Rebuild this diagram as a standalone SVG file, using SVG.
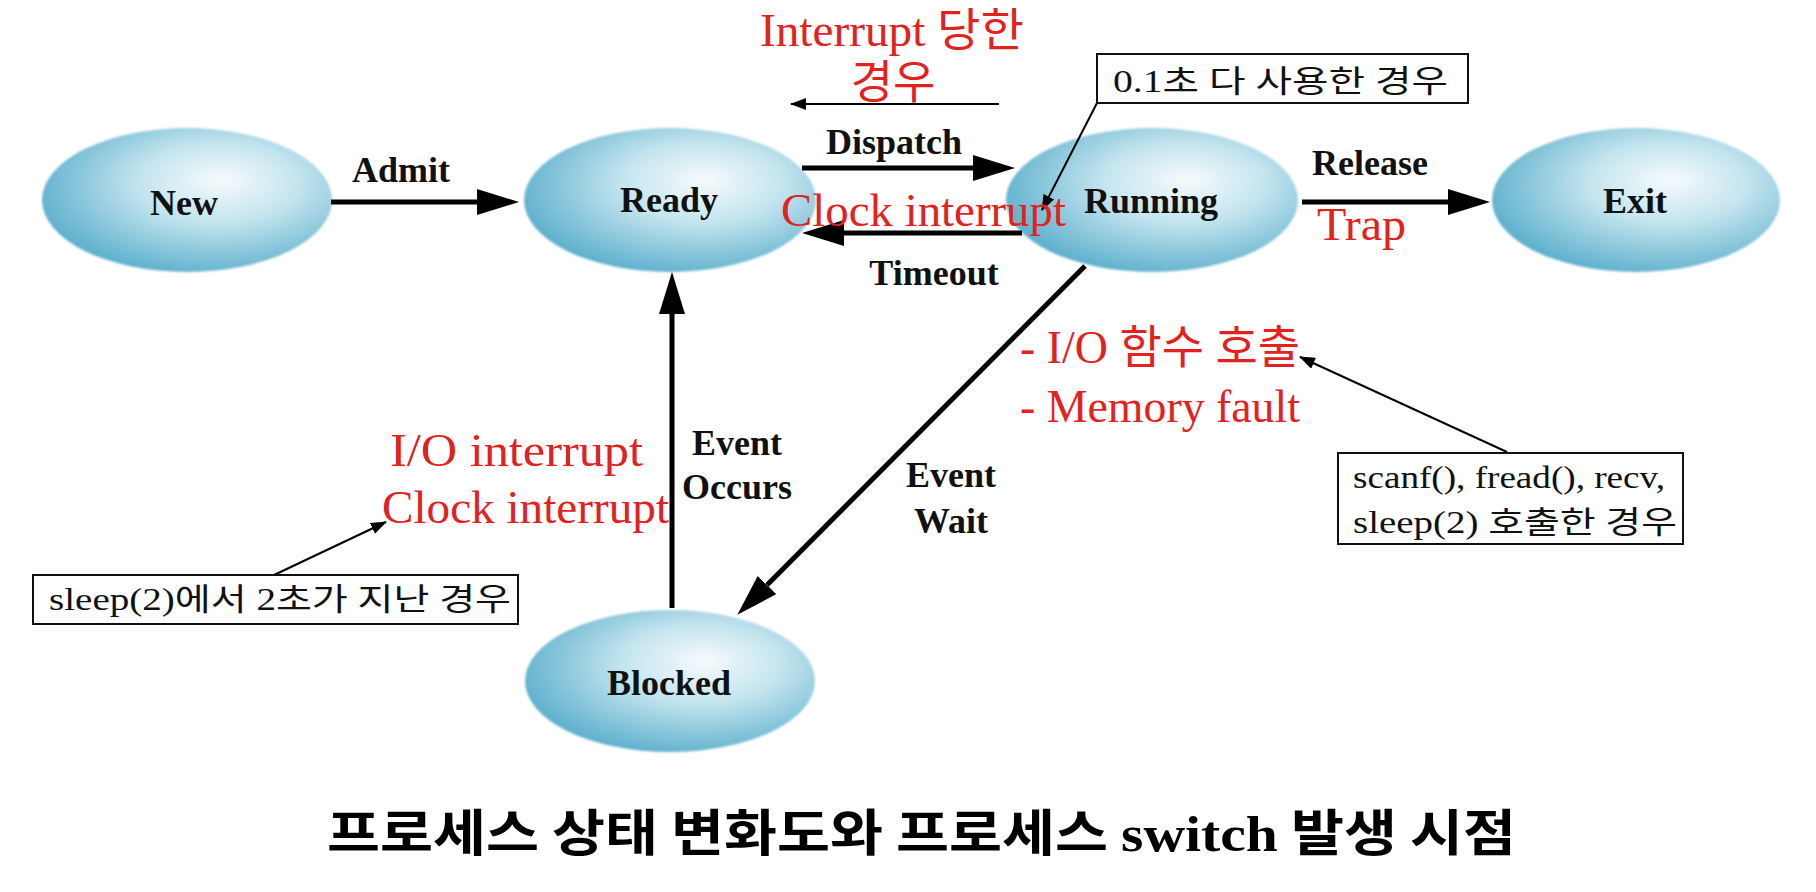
<svg xmlns="http://www.w3.org/2000/svg" width="1816" height="892" viewBox="0 0 1816 892">
<defs>
<radialGradient id="gb" cx="0.6" cy="0.4" r="0.62" fx="0.62" fy="0.36">
<stop offset="0" stop-color="#f6fbfd"/>
<stop offset="0.45" stop-color="#c3e4ee"/>
<stop offset="1" stop-color="#62b2ce"/>
</radialGradient>
<filter id="soft" x="-5%" y="-5%" width="110%" height="110%"><feGaussianBlur stdDeviation="1.2"/></filter>
<marker id="big" viewBox="0 0 42 26" refX="0" refY="13" markerWidth="42" markerHeight="26" markerUnits="userSpaceOnUse" orient="auto"><path d="M0,0 L42,13 L0,26 z" fill="#000"/></marker>
<marker id="thin" viewBox="0 0 16 12" refX="15" refY="6" markerWidth="16" markerHeight="12" markerUnits="userSpaceOnUse" orient="auto"><path d="M0,0 L16,6 L0,12 z" fill="#000"/></marker>
</defs>
<style>
.st{fill:url(#gb);filter:url(#soft)}
.nl{font-family:"Liberation Serif",serif;font-weight:bold;font-size:36px;fill:#111;text-anchor:middle}
.el{font-family:"Liberation Serif",serif;font-weight:bold;font-size:36px;fill:#111;text-anchor:middle}
.red{font-family:"Liberation Serif","Noto Sans CJK KR",serif;font-size:46px;fill:#e3211f}
.box{fill:#fff;stroke:#111;stroke-width:2}
.bt{font-family:"Liberation Serif","Noto Sans CJK KR",serif;font-size:31px;fill:#111}
.thick{stroke:#000;stroke-width:5;fill:none}
.tl{stroke:#000;stroke-width:2;fill:none}
.title{font-family:"Noto Sans CJK KR",sans-serif;font-weight:bold;font-size:50px;fill:#000}
</style>
<rect width="1816" height="892" fill="#fff"/>

<g id="node-new"><ellipse class="st" cx="187" cy="200" rx="145" ry="72"/><text class="nl" x="184" y="215">New</text></g>
<g id="node-ready"><ellipse class="st" cx="670" cy="200" rx="146" ry="72"/><text class="nl" x="669" y="212">Ready</text></g>
<g id="node-running"><ellipse class="st" cx="1152" cy="200" rx="146" ry="72"/><text class="nl" x="1151" y="213">Running</text></g>
<g id="node-exit"><ellipse class="st" cx="1636" cy="200" rx="144" ry="72"/><text class="nl" x="1635" y="213">Exit</text></g>
<g id="node-blocked"><ellipse class="st" cx="670" cy="681" rx="145" ry="71"/><text class="nl" x="669" y="695">Blocked</text></g>

<g id="connectors">
<line class="thick" x1="331" y1="202" x2="477" y2="202" marker-end="url(#big)"/>
<line class="thick" x1="802" y1="168" x2="973" y2="168" marker-end="url(#big)"/>
<line class="thick" x1="1022" y1="233" x2="844" y2="233" marker-end="url(#big)"/>
<line class="thick" x1="1302" y1="202" x2="1448" y2="202" marker-end="url(#big)"/>
<line class="thick" x1="672" y1="608" x2="672" y2="314" marker-end="url(#big)"/>
<line class="thick" x1="1085" y1="266" x2="767" y2="585" marker-end="url(#big)"/>
<line class="tl" x1="999" y1="104" x2="791" y2="104" marker-end="url(#thin)"/>
<line class="tl" x1="1097" y1="103" x2="1042" y2="210" marker-end="url(#thin)"/>
<line class="tl" x1="274" y1="575" x2="386" y2="522" marker-end="url(#thin)"/>
<line class="tl" x1="1507" y1="452" x2="1300" y2="357" marker-end="url(#thin)"/>
</g>

<g id="edge-labels">
<text class="el" x="401" y="182">Admit</text>
<text class="el" x="894" y="154">Dispatch</text>
<text class="el" x="934" y="285">Timeout</text>
<text class="el" x="1370" y="175">Release</text>
<text class="el" x="737" y="455">Event</text>
<text class="el" x="737" y="499">Occurs</text>
<text class="el" x="951" y="487">Event</text>
<text class="el" x="951" y="533">Wait</text>
</g>

<g id="red-notes">
<text class="red" x="760" y="46" textLength="264" lengthAdjust="spacingAndGlyphs">Interrupt 당한</text>
<text class="red" x="893" y="98" text-anchor="middle">경우</text>
<text class="red" x="781" y="226" textLength="285" lengthAdjust="spacingAndGlyphs">Clock interrupt</text>
<text class="red" x="1317" y="240" textLength="89" lengthAdjust="spacingAndGlyphs">Trap</text>
<text class="red" x="390" y="466" textLength="253" lengthAdjust="spacingAndGlyphs">I/O interrupt</text>
<text class="red" x="382" y="523" textLength="287" lengthAdjust="spacingAndGlyphs">Clock interrupt</text>
<text class="red" x="1020" y="363" textLength="280" lengthAdjust="spacingAndGlyphs">- I/O 함수 호출</text>
<text class="red" x="1020" y="422" textLength="280" lengthAdjust="spacingAndGlyphs">- Memory fault</text>
</g>

<g id="note-timeslice">
<rect class="box" x="1097" y="54" width="371" height="49"/>
<text class="bt" x="1113" y="92" textLength="335" lengthAdjust="spacingAndGlyphs">0.1초 다 사용한 경우</text>
</g>
<g id="note-sleep">
<rect class="box" x="33" y="575" width="485" height="49"/>
<text class="bt" x="49" y="610" textLength="462" lengthAdjust="spacingAndGlyphs">sleep(2)에서 2초가 지난 경우</text>
</g>
<g id="note-io">
<rect class="box" x="1338" y="453" width="345" height="91"/>
<text class="bt" x="1353" y="488" textLength="312" lengthAdjust="spacingAndGlyphs">scanf(),  fread(), recv,</text>
<text class="bt" x="1353" y="533" textLength="324" lengthAdjust="spacingAndGlyphs">sleep(2) 호출한 경우</text>
</g>

<text class="title" x="327" y="851" textLength="1189" lengthAdjust="spacingAndGlyphs">프로세스 상태 변화도와 프로세스 <tspan font-family="Liberation Serif, serif">switch</tspan> 발생 시점</text>
</svg>
